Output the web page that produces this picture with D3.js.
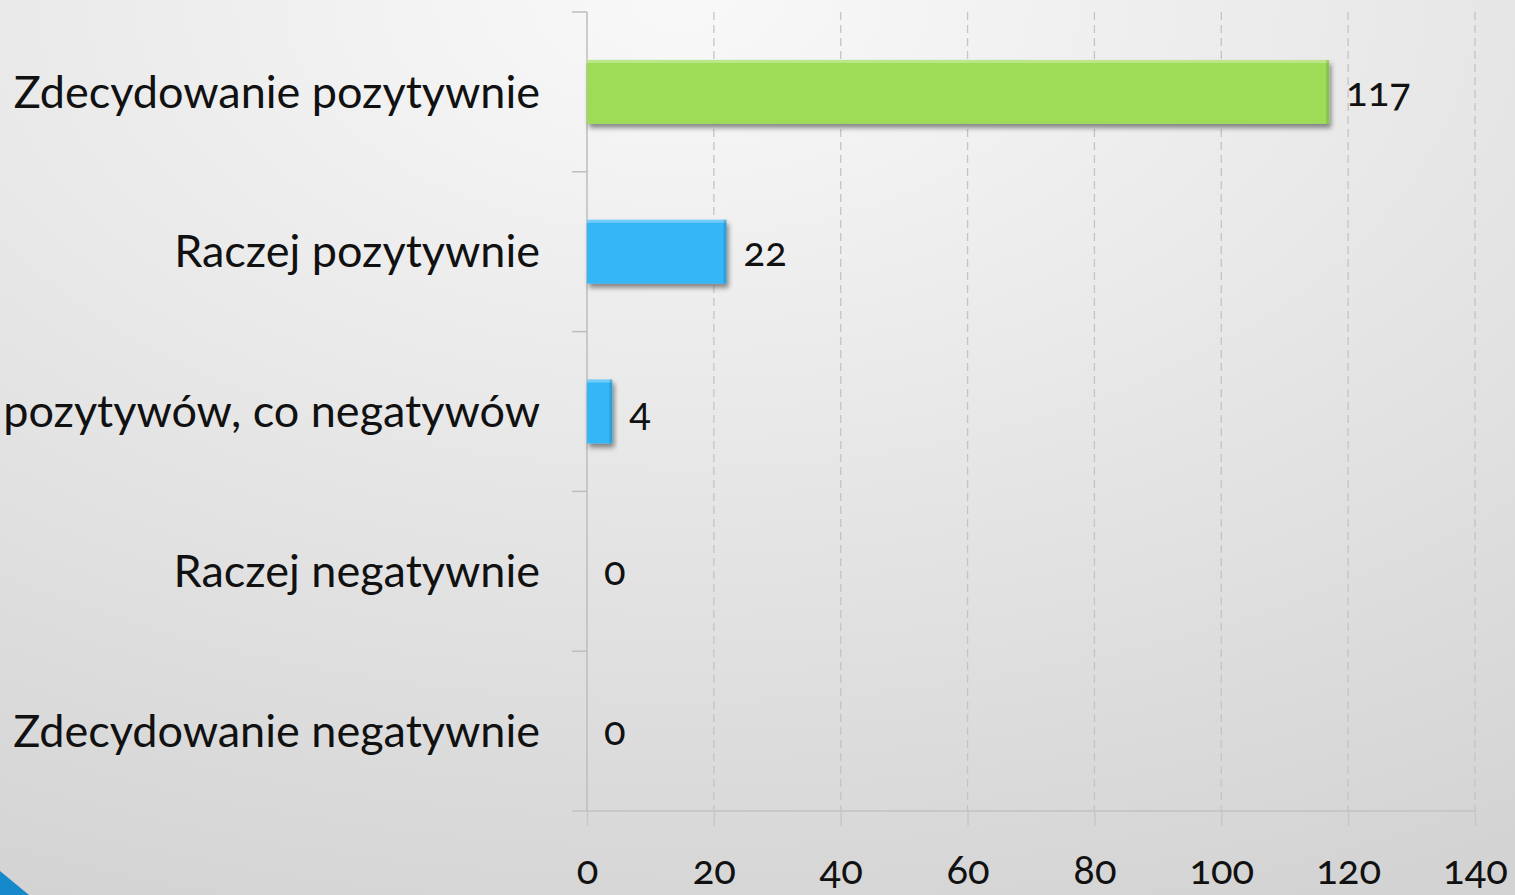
<!DOCTYPE html>
<html>
<head>
<meta charset="utf-8">
<script src="https://cdn.jsdelivr.net/npm/d3@7"></script>
<style>
  html, body { margin: 0; padding: 0; overflow: hidden; }
  #graf { width: 1515px; height: 895px; }
  text { font-family: Lato, 'Open Sans', sans-serif; fill: #111; }
  .num { font-variant-numeric: oldstyle-nums; font-feature-settings: "onum" 1; }
</style>
</head>
<body>
<div id="graf"></div>
<script>
// dane
kategorie = ['Zdecydowanie pozytywnie', 'Raczej pozytywnie', 'Tyle samo pozytywów, co negatywów',
             'Raczej negatywnie', 'Zdecydowanie negatywnie']
wartosci = [117, 22, 4, 0, 0]
kolory = ['#9edc59', '#35b6f6', '#35b6f6', '#35b6f6', '#35b6f6']
ticksX = [0, 20, 40, 60, 80, 100, 120, 140]

ancho_total = 1515
alto_total = 895
margins = {top: 12, left: 587, right: 40, bottom: 84}
ancho = ancho_total - margins.left - margins.right
alto = alto_total - margins.top - margins.bottom   // 799

svg = d3.select('#graf').append('svg')
        .attr('width', ancho_total)
        .attr('height', alto_total)

defs = svg.append('defs')

// tło: jasny szary gradient
bg = defs.append('radialGradient')
        .attr('id', 'bg')
        .attr('cx', '45%').attr('cy', '0%').attr('r', '110%')
bg.append('stop').attr('offset', '0%').attr('stop-color', '#f9f9f9')
bg.append('stop').attr('offset', '100%').attr('stop-color', '#d3d3d3')

sombra = defs.append('filter')
        .attr('id', 'sombra')
        .attr('x', '-10%').attr('y', '-20%').attr('width', '130%').attr('height', '160%')
sombra.append('feDropShadow')
      .attr('dx', 2).attr('dy', 4).attr('stdDeviation', 2.5)
      .attr('flood-color', '#000').attr('flood-opacity', 0.45)

svg.append('rect')
   .attr('width', ancho_total)
   .attr('height', alto_total)
   .attr('fill', 'url(#bg)')

// niebieski trójkąt w rogu
svg.append('path')
   .attr('d', `M0,${alto_total - 24} L29,${alto_total} L0,${alto_total} Z`)
   .attr('fill', '#1589c9')

g = svg.append('g')
       .attr('transform', `translate(${margins.left}, ${margins.top})`)

x = d3.scaleLinear().domain([0, 140]).range([0, 888])
y = d3.scaleBand().domain(kategorie).range([0, alto])
      .paddingInner(0.6).paddingOuter(0.3)

// siatka
g.selectAll('.grid')
 .data(ticksX.slice(1))
 .enter().append('line')
   .attr('x1', d => x(d)).attr('x2', d => x(d))
   .attr('y1', 0).attr('y2', alto)
   .attr('stroke', '#c4c4c4')
   .attr('stroke-width', 1.3)
   .attr('stroke-dasharray', '8,5')

// oś X
ejeX = d3.axisBottom(x).tickValues(ticksX).tickSize(15).tickPadding(30)
ejeXG = g.append('g')
         .attr('transform', `translate(0, ${alto})`)
         .call(ejeX)
ejeXG.select('.domain').remove()
ejeXG.append('line')
     .attr('x1', -15).attr('x2', x(140))
     .attr('stroke', '#c2c2c2').attr('stroke-width', 1.5)
ejeXG.selectAll('.tick line').attr('stroke', '#c8c8c8').attr('stroke-width', 1.5)
ejeXG.selectAll('.tick text')
     .attr('class', 'num')
     .attr('font-size', 40)
     .attr('fill', '#111')
     .attr('font-family', 'Lato, sans-serif')

// oś Y
g.append('line')
 .attr('x1', 0).attr('x2', 0)
 .attr('y1', 0).attr('y2', alto)
 .attr('stroke', '#bdbdbd').attr('stroke-width', 1.5)

granice = d3.range(kategorie.length).map(i => i * y.step())
g.selectAll('.ytick')
 .data(granice)
 .enter().append('line')
   .attr('x1', -15).attr('x2', 0)
   .attr('y1', d => d).attr('y2', d => d)
   .attr('stroke', '#bdbdbd').attr('stroke-width', 1.5)

g.selectAll('.etiqueta')
 .data(kategorie)
 .enter().append('text')
   .attr('x', -47)
   .attr('y', d => y(d) + y.bandwidth() / 2)
   .attr('dy', '0.35em')
   .attr('text-anchor', 'end')
   .attr('font-size', 45)
   .text(d => d)

// słupki
datos = kategorie.map((k, i) => ({k: k, v: wartosci[i], c: kolory[i]}))

barras = g.selectAll('.barra')
          .data(datos.filter(d => d.v > 0))
          .enter().append('g')

barras.append('rect')
      .attr('x', 0)
      .attr('y', d => y(d.k))
      .attr('width', d => x(d.v))
      .attr('height', y.bandwidth())
      .attr('fill', d => d.c)
      .attr('filter', 'url(#sombra)')

// jaśniejsza górna krawędź i ciemniejsza prawa
barras.append('rect')
      .attr('x', 0)
      .attr('y', d => y(d.k))
      .attr('width', d => x(d.v))
      .attr('height', 3)
      .attr('fill', '#fff')
      .attr('opacity', 0.3)
barras.append('rect')
      .attr('x', d => x(d.v) - 3)
      .attr('y', d => y(d.k))
      .attr('width', 3)
      .attr('height', y.bandwidth())
      .attr('fill', '#000')
      .attr('opacity', 0.12)

// wartości
g.selectAll('.valor')
 .data(datos)
 .enter().append('text')
   .attr('class', 'num')
   .attr('x', d => x(d.v) + 17)
   .attr('y', d => y(d.k) + y.bandwidth() / 2)
   .attr('dy', '0.35em')
   .attr('font-size', 40)
   .text(d => d.v)
</script>
</body>
</html>
